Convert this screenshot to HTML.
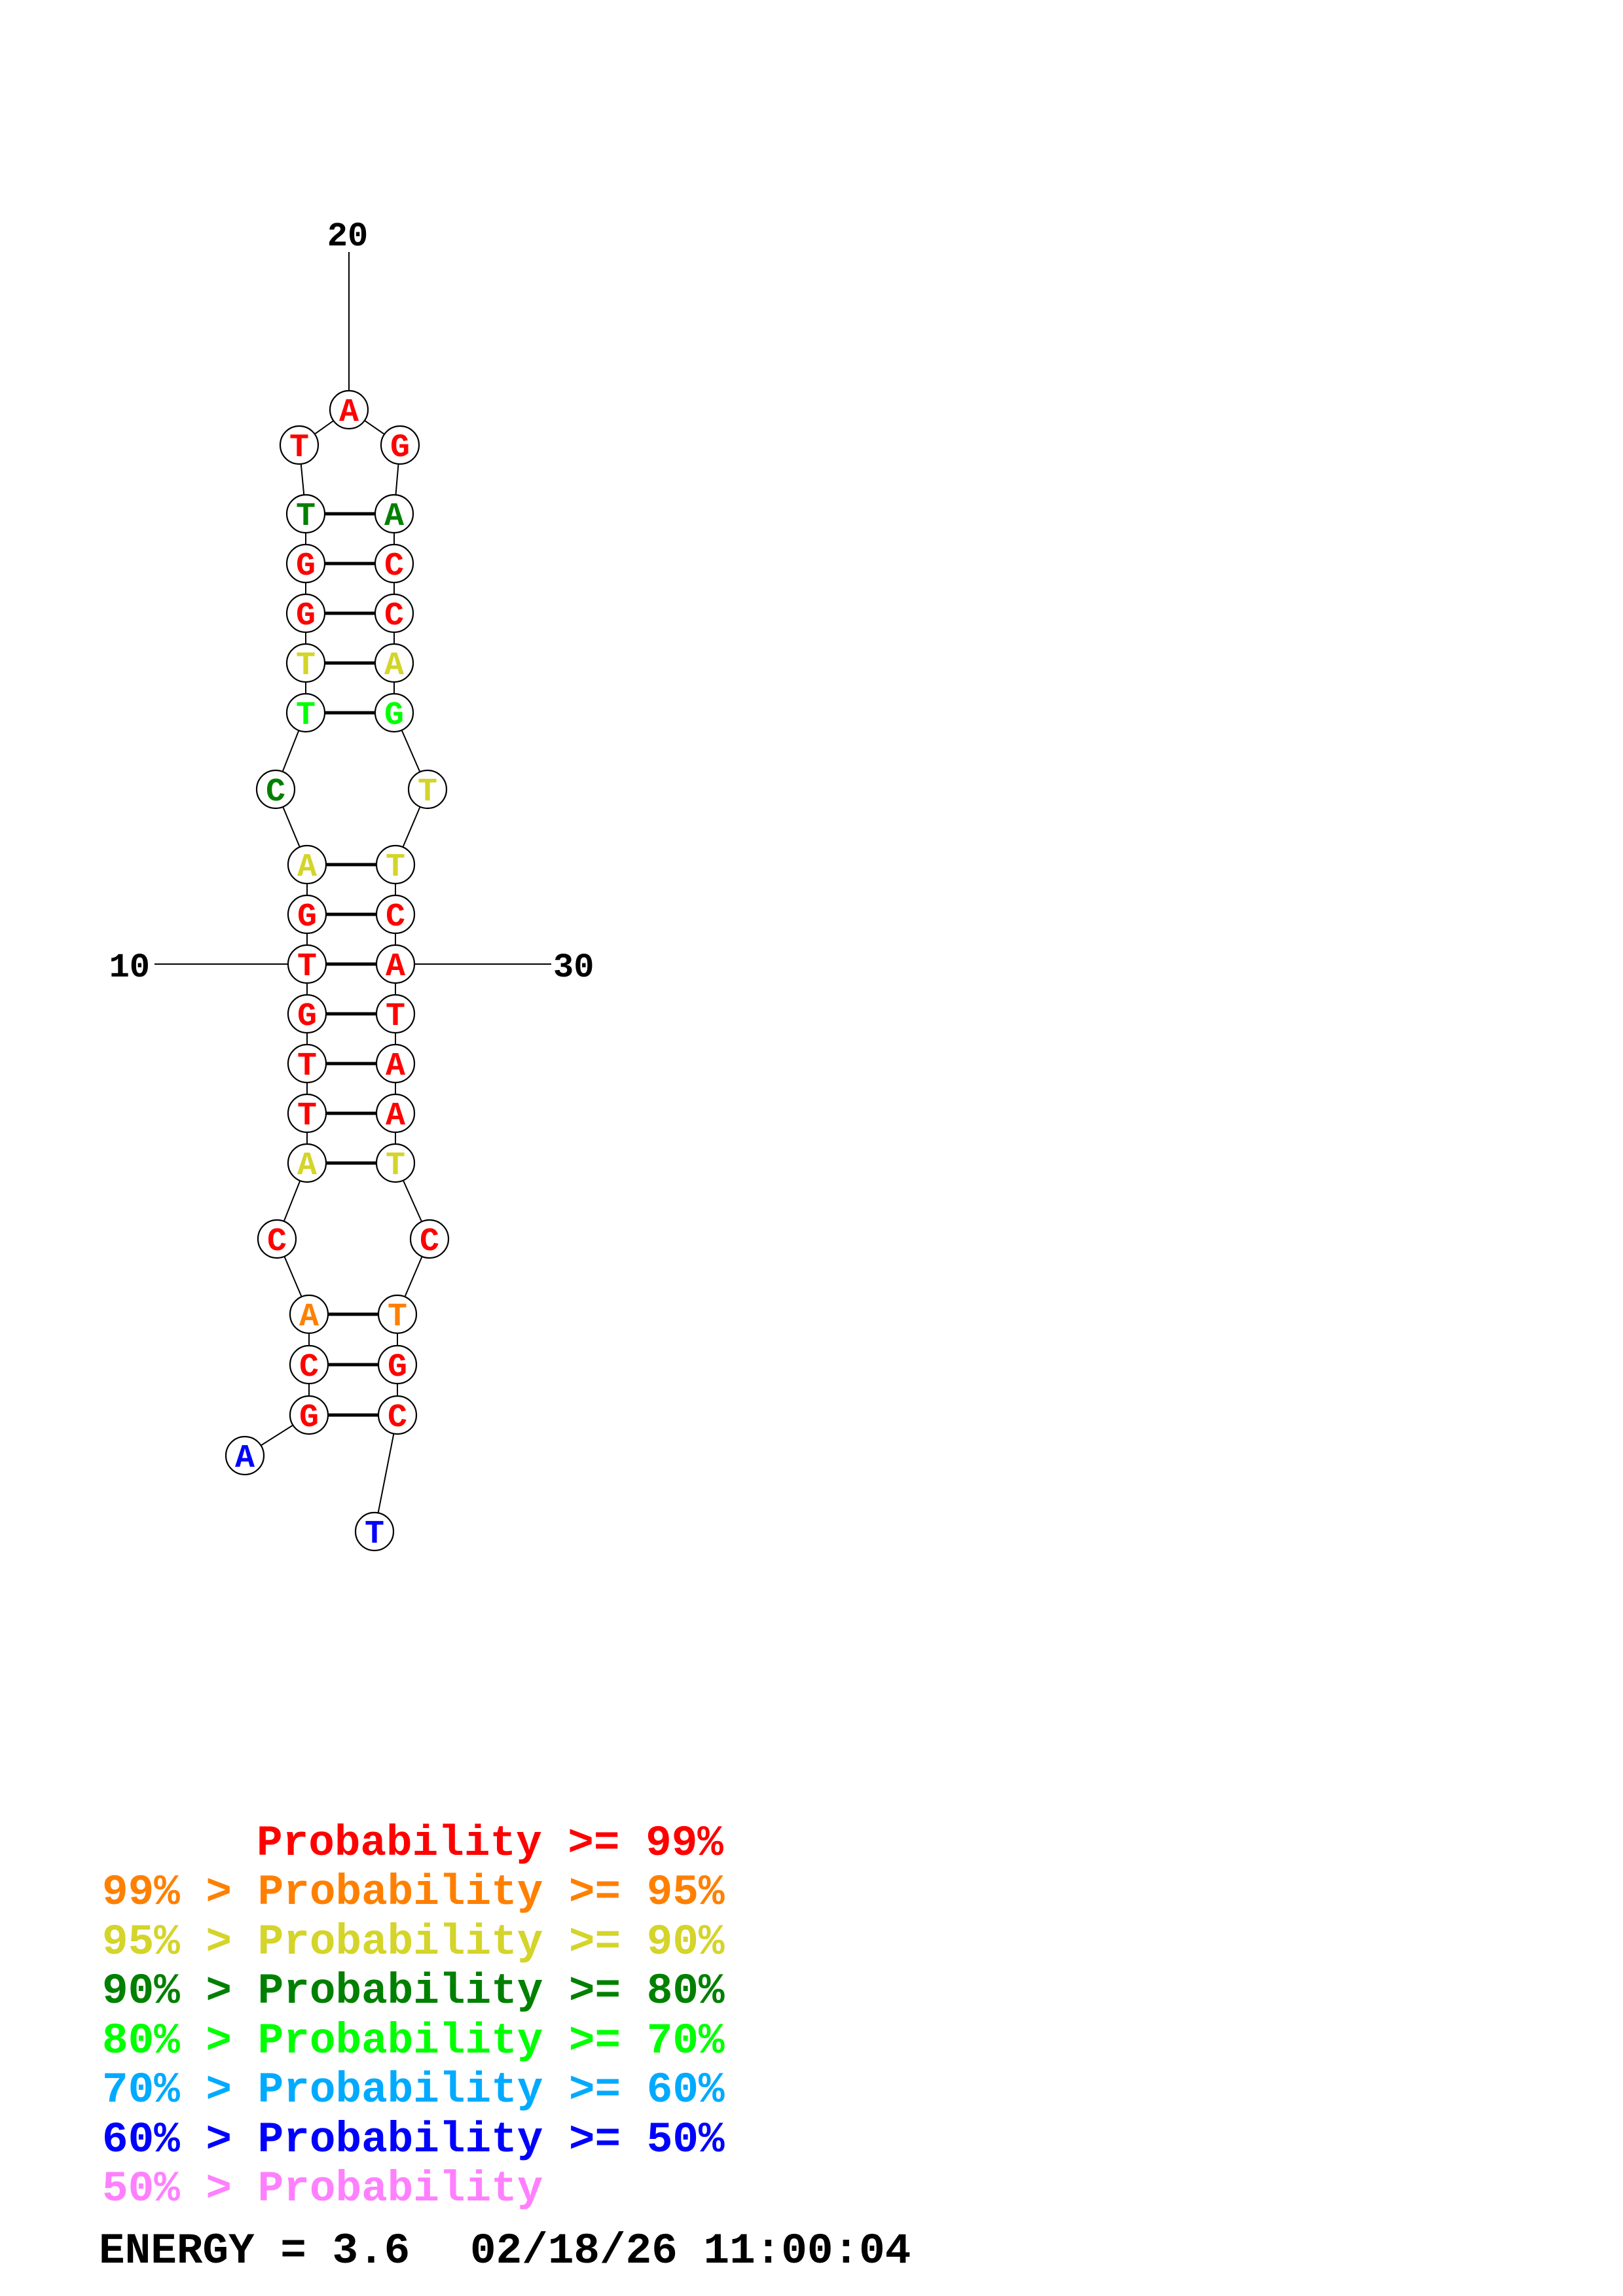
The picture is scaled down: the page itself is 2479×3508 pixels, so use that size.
<!DOCTYPE html>
<html><head><meta charset="utf-8"><style>
html,body{margin:0;padding:0;background:#fff;}
svg{display:block;}
.pre{white-space:pre;}
</style></head><body>
<svg width="2479" height="3508" viewBox="0 0 2479 3508" xmlns="http://www.w3.org/2000/svg">
<rect width="2479" height="3508" fill="#fff"/>
<g stroke="#000" stroke-width="2" fill="none">
<polyline points="374,2224 472,2162 472,2085 472,2008 423,1893 469,1777 469,1701 469,1625 469,1549 469,1473 469,1397 469,1321 421,1206 467,1089 467,1013 467,937 467,861 467,785 457,680 533,626 611,680 602,785 602,861 602,937 602,1013 602,1089 653,1206 604,1321 604,1397 604,1473 604,1549 604,1625 604,1701 604,1777 656,1893 607,2008 607,2085 607,2162 572,2340"/>
<line x1="533" y1="385" x2="533" y2="597"/>
<line x1="236" y1="1473" x2="469" y2="1473"/>
<line x1="604" y1="1473" x2="842" y2="1473"/>
</g>
<g stroke="#000" stroke-width="5">
<line x1="467" y1="785" x2="602" y2="785"/><line x1="467" y1="861" x2="602" y2="861"/><line x1="467" y1="937" x2="602" y2="937"/><line x1="467" y1="1013" x2="602" y2="1013"/><line x1="467" y1="1089" x2="602" y2="1089"/>
<line x1="469" y1="1321" x2="604" y2="1321"/><line x1="469" y1="1397" x2="604" y2="1397"/><line x1="469" y1="1473" x2="604" y2="1473"/><line x1="469" y1="1549" x2="604" y2="1549"/><line x1="469" y1="1625" x2="604" y2="1625"/><line x1="469" y1="1701" x2="604" y2="1701"/><line x1="469" y1="1777" x2="604" y2="1777"/>
<line x1="472" y1="2008" x2="607" y2="2008"/><line x1="472" y1="2085" x2="607" y2="2085"/><line x1="472" y1="2162" x2="607" y2="2162"/>
</g>
<g stroke="#000" stroke-width="2.2" fill="#fff">
<circle cx="533" cy="626" r="29"/><circle cx="457" cy="680" r="29"/><circle cx="611" cy="680" r="29"/>
<circle cx="467" cy="785" r="29"/><circle cx="602" cy="785" r="29"/><circle cx="467" cy="861" r="29"/><circle cx="602" cy="861" r="29"/><circle cx="467" cy="937" r="29"/><circle cx="602" cy="937" r="29"/><circle cx="467" cy="1013" r="29"/><circle cx="602" cy="1013" r="29"/><circle cx="467" cy="1089" r="29"/><circle cx="602" cy="1089" r="29"/>
<circle cx="421" cy="1206" r="29"/><circle cx="653" cy="1206" r="29"/>
<circle cx="469" cy="1321" r="29"/><circle cx="604" cy="1321" r="29"/><circle cx="469" cy="1397" r="29"/><circle cx="604" cy="1397" r="29"/><circle cx="469" cy="1473" r="29"/><circle cx="604" cy="1473" r="29"/><circle cx="469" cy="1549" r="29"/><circle cx="604" cy="1549" r="29"/><circle cx="469" cy="1625" r="29"/><circle cx="604" cy="1625" r="29"/><circle cx="469" cy="1701" r="29"/><circle cx="604" cy="1701" r="29"/><circle cx="469" cy="1777" r="29"/><circle cx="604" cy="1777" r="29"/>
<circle cx="423" cy="1893" r="29"/><circle cx="656" cy="1893" r="29"/>
<circle cx="472" cy="2008" r="29"/><circle cx="607" cy="2008" r="29"/><circle cx="472" cy="2085" r="29"/><circle cx="607" cy="2085" r="29"/><circle cx="472" cy="2162" r="29"/><circle cx="607" cy="2162" r="29"/>
<circle cx="374" cy="2224" r="29"/><circle cx="572" cy="2340" r="29"/>
</g>
<g font-family="'Liberation Mono', monospace" font-weight="bold" font-size="50" text-anchor="middle">
<text x="533" y="643" fill="#f00">A</text><text x="457" y="697" fill="#f00">T</text><text x="611" y="697" fill="#f00">G</text>
<text x="467" y="802" fill="#008000">T</text><text x="602" y="802" fill="#008000">A</text>
<text x="467" y="878" fill="#f00">G</text><text x="602" y="878" fill="#f00">C</text>
<text x="467" y="954" fill="#f00">G</text><text x="602" y="954" fill="#f00">C</text>
<text x="467" y="1030" fill="#d4d42a">T</text><text x="602" y="1030" fill="#d4d42a">A</text>
<text x="467" y="1106" fill="#0f0">T</text><text x="602" y="1106" fill="#0f0">G</text>
<text x="421" y="1223" fill="#008000">C</text><text x="653" y="1223" fill="#d4d42a">T</text>
<text x="469" y="1338" fill="#d4d42a">A</text><text x="604" y="1338" fill="#d4d42a">T</text>
<text x="469" y="1414" fill="#f00">G</text><text x="604" y="1414" fill="#f00">C</text>
<text x="469" y="1490" fill="#f00">T</text><text x="604" y="1490" fill="#f00">A</text>
<text x="469" y="1566" fill="#f00">G</text><text x="604" y="1566" fill="#f00">T</text>
<text x="469" y="1642" fill="#f00">T</text><text x="604" y="1642" fill="#f00">A</text>
<text x="469" y="1718" fill="#f00">T</text><text x="604" y="1718" fill="#f00">A</text>
<text x="469" y="1794" fill="#d4d42a">A</text><text x="604" y="1794" fill="#d4d42a">T</text>
<text x="423" y="1910" fill="#f00">C</text><text x="656" y="1910" fill="#f00">C</text>
<text x="472" y="2025" fill="#ff8000">A</text><text x="607" y="2025" fill="#ff8000">T</text>
<text x="472" y="2102" fill="#f00">C</text><text x="607" y="2102" fill="#f00">G</text>
<text x="472" y="2179" fill="#f00">G</text><text x="607" y="2179" fill="#f00">C</text>
<text x="374" y="2241" fill="#00f">A</text><text x="572" y="2357" fill="#00f">T</text>
</g>
<g font-family="'Liberation Mono', monospace" font-weight="bold" font-size="52" fill="#000">
<text x="531" y="375" text-anchor="middle">20</text>
<text x="229" y="1492" text-anchor="end">10</text>
<text x="845" y="1492">30</text>
</g>
<g font-family="'Liberation Mono', monospace" font-weight="bold" font-size="66" class="pre">
<text x="392" y="2834" fill="#f00">Probability &gt;= 99%</text>
<text x="156" y="2909" fill="#ff8000">99% &gt; Probability &gt;= 95%</text>
<text x="156" y="2985" fill="#d4d42a">95% &gt; Probability &gt;= 90%</text>
<text x="156" y="3060" fill="#008000">90% &gt; Probability &gt;= 80%</text>
<text x="156" y="3136" fill="#0f0">80% &gt; Probability &gt;= 70%</text>
<text x="156" y="3211" fill="#00aaff">70% &gt; Probability &gt;= 60%</text>
<text x="156" y="3287" fill="#00f">60% &gt; Probability &gt;= 50%</text>
<text x="156" y="3362" fill="#ff80ff">50% &gt; Probability</text>
<text x="151" y="3457" fill="#000">ENERGY = 3.6</text>
<text x="718" y="3457" fill="#000">02/18/26 11:00:04</text>
</g>
</svg>
</body></html>
